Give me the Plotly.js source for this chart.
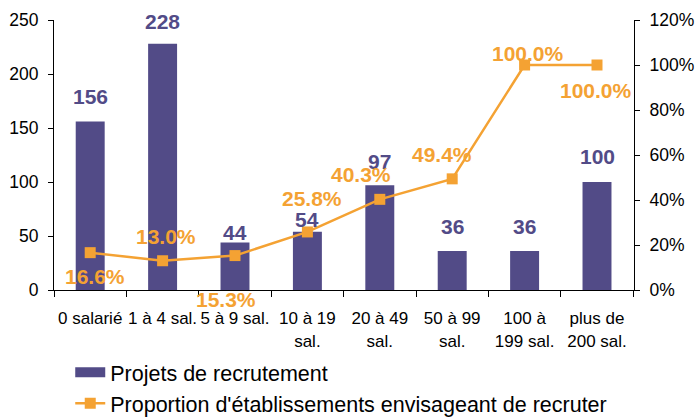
<!DOCTYPE html>
<html>
<head>
<meta charset="utf-8">
<script src="https://cdn.plot.ly/plotly-3.0.1.min.js"></script>
<style>html,body{margin:0;padding:0;background:#fff;}#chart{width:697px;height:417px;}</style>
</head>
<body>
<div id="chart"></div>
<script>
// ---- data ----
const categories = ["0 salarié", "1 à 4 sal.", "5 à 9 sal.", "10 à 19<br>sal.", "20 à 49<br>sal.", "50 à 99<br>sal.", "100 à<br>199 sal.", "plus de<br>200 sal."];
const projets = [156, 228, 44, 54, 97, 36, 36, 100];
const proportion = [16.6, 13.0, 15.3, 25.8, 40.3, 49.4, 100.0, 100.0];
const seriesNames = ["Projets de recrutement", "Proportion d'établissements envisageant de recruter"];

// ---- label placement (pixels) ----
const barLabelGap = [25, 22, 10, 12, 24, 25, 25, 26];
const lineLabelDx = [5, 3, -9, 5, -19, -10, 3, -1];
const lineLabelDy = [-24, 24, -44, 33, 25, 24, 12, -25];

const purple = '#524B87';
const orange = '#F4A233';
const font = 'Liberation Sans, Arial, sans-serif';

const traces = [
  {
    type: 'bar', x: categories, y: projets, name: seriesNames[0],
    marker: {color: purple}, yaxis: 'y', hoverinfo: 'none', showlegend: false
  },
  {
    // legend swatch for the bars (wide block like the reference)
    type: 'scatter', mode: 'lines', x: [null], y: [null], name: seriesNames[0],
    line: {color: purple, width: 14}, yaxis: 'y', hoverinfo: 'none', showlegend: true
  },
  {
    type: 'scatter', mode: 'lines+markers', x: categories, y: proportion, name: seriesNames[1],
    yaxis: 'y2', line: {color: orange, width: 2.5},
    marker: {symbol: 'square', size: 11, color: orange}, hoverinfo: 'none'
  }
];

const annotations = [];
categories.forEach((c, i) => {
  annotations.push({
    x: c, y: projets[i], xref: 'x', yref: 'y', text: String(projets[i]),
    showarrow: false, yanchor: 'middle', yshift: barLabelGap[i],
    font: {family: font, size: 21, color: purple, weight: 'bold'}
  });
});
categories.forEach((c, i) => {
  annotations.push({
    x: c, y: proportion[i], xref: 'x', yref: 'y2', text: proportion[i].toFixed(1) + '%',
    showarrow: false, yanchor: 'middle', xshift: lineLabelDx[i], yshift: lineLabelDy[i],
    font: {family: font, size: 21, color: orange, weight: 'bold'}
  });
});

const layout = {
  width: 697, height: 417,
  margin: {l: 54, r: 63, t: 20, b: 127, autoexpand: false},
  paper_bgcolor: '#fff', plot_bgcolor: '#fff',
  font: {family: font, size: 17, color: '#000'},
  bargap: 0.6,
  showlegend: true,
  legend: {
    orientation: 'v', x: 0.028, xanchor: 'left', y: -0.229, yanchor: 'top',
    font: {family: font, size: 21.5, color: '#000'}, bgcolor: 'rgba(0,0,0,0)',
    tracegroupgap: 0, itemwidth: 30, traceorder: 'normal'
  },
  xaxis: {
    type: 'category', showline: true, linecolor: '#000', linewidth: 1,
    ticks: 'outside', tickson: 'boundaries', ticklen: 6, tickcolor: '#000',
    tickangle: 0, ticklabelstandoff: 13, showgrid: false, zeroline: false,
    tickfont: {family: font, size: 17, color: '#000'}, fixedrange: true
  },
  yaxis: {
    range: [0, 250], dtick: 50, showline: true, linecolor: '#000', linewidth: 1,
    ticks: 'outside', ticklen: 5, tickcolor: '#000', showgrid: false, zeroline: false,
    tickfont: {family: font, size: 17.5, color: '#000'}, ticklabelstandoff: 6
  },
  yaxis2: {
    range: [0, 120], dtick: 20, ticksuffix: '%', overlaying: 'y', side: 'right',
    showline: true, linecolor: '#000', linewidth: 1, ticks: 'outside', ticklen: 5,
    tickcolor: '#000', showgrid: false, zeroline: false,
    tickfont: {family: font, size: 17.5, color: '#000'}, ticklabelstandoff: 6
  },
  annotations: annotations
};

Plotly.newPlot('chart', traces, layout, {displayModeBar: false, staticPlot: true});
</script>
</body>
</html>
